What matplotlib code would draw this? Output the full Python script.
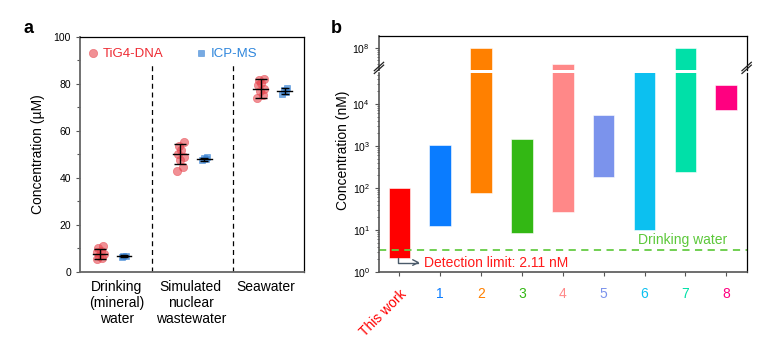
import numpy as np
import matplotlib
matplotlib.use('Agg')
import matplotlib.pyplot as plt
from matplotlib.ticker import NullFormatter

plt.rcParams['font.family'] = ['Liberation Sans', 'DejaVu Sans']

# ---- panel a data (uM) ----
sample_names = ['Drinking\n(mineral)\nwater', 'Simulated\nnuclear\nwastewater', 'Seawater']
tig4_points = [[5.5, 6.0, 7.0, 7.5, 8.5, 9.0, 10.0, 11.0],
               [43.0, 44.5, 47.5, 49.0, 50.0, 52.0, 53.5, 55.5],
               [74.0, 75.5, 77.0, 78.0, 79.5, 80.5, 81.5, 82.0]]
tig4_mean = [7.7, 50.3, 78.0]
tig4_sd = [2.2, 4.3, 4.0]
icp_points = [[6.5, 6.8, 7.0],
              [47.5, 48.0, 48.5, 48.8],
              [75.8, 76.5, 77.5, 78.3]]
icp_mean = [6.8, 48.0, 77.0]
icp_sd = [0.3, 0.6, 1.2]

# ---- panel b data (nM) ----
methods = ['This work', '1', '2', '3', '4', '5', '6', '7', '8']
range_low = [2.11, 12.5, 75, 8.6, 27, 180, 9.8, 240, 7200]
range_high = [100, 1050, 1e8, 1500, 4e7, 5400, 6e4, 1e8, 29000]
method_colors = ['#ff0000', '#0a7cff', '#ff8000', '#33b814', '#ff8888',
                 '#7b93ec', '#0cc0f0', '#00e0a8', '#ff0080']
drinking_limit = 3.4
detection_limit = 2.11

red = '#e8474f'
blue = '#3d86d6'

fig = plt.figure(figsize=(7.78, 3.5), dpi=100)

# ================= panel a =================
ax = fig.add_axes([0.1028, 0.2229, 0.2879, 0.6714])
off = 0.15
for i in range(3):
    pts = np.array(tig4_points[i])
    jit = np.tile([-0.04, 0.03, -0.01, 0.045, -0.035, 0.01, -0.02, 0.04], 2)[:len(pts)]
    ax.plot(i - off + jit, pts, 'o', color=red, ms=6, alpha=0.6, mec=red, mew=0.5,
            label='TiG4-DNA' if i == 0 else None, zorder=2)
    ax.errorbar(i - off, tig4_mean[i], yerr=tig4_sd[i], fmt='none', ecolor='black',
                elinewidth=1, capsize=4, capthick=1, zorder=3)
    ax.plot([i - off - 0.09, i - off + 0.09], [tig4_mean[i]] * 2, color='black', lw=1, zorder=3)

    pts = np.array(icp_points[i])
    jit = np.array([-0.03, 0.02, -0.01, 0.03])[:len(pts)]
    ax.plot(i + off + jit, pts, 's', color=blue, ms=5, alpha=0.7, mec=blue, mew=0.5,
            label='ICP-MS' if i == 0 else None, zorder=2)
    ax.errorbar(i + off, icp_mean[i], yerr=icp_sd[i], fmt='none', ecolor='black',
                elinewidth=1, capsize=3, capthick=1, zorder=3)
    ax.plot([i + off - 0.09, i + off + 0.09], [icp_mean[i]] * 2, color='black', lw=1, zorder=3)

for xs in [0.5, 1.5]:
    ax.plot([xs, xs], [0, 89], color='black', lw=0.9, ls=(0, (4, 3)))

ax.set_xlim(-0.4, 2.39)
ax.set_ylim(0, 100)
ax.set_yticks([0, 20, 40, 60, 80, 100])
ax.set_yticks([10, 30, 50, 70, 90], minor=True)
ax.set_xticks([0.06, 0.98, 1.92])
ax.set_xticklabels(sample_names, fontsize=10, linespacing=1.15)
ax.tick_params(axis='x', length=0, pad=6)
ax.tick_params(axis='y', labelsize=7.5, length=3, width=0.8, color='#555555')
ax.tick_params(axis='y', which='minor', length=2, width=0.8, color='#555555')
ax.set_ylabel('Concentration (µM)', fontsize=10, labelpad=6)
for s in ['left', 'bottom']:
    ax.spines[s].set_color('#666666')
    ax.spines[s].set_linewidth(1.3)
for s in ['top', 'right']:
    ax.spines[s].set_linewidth(0.9)
leg = ax.legend(loc='upper left', bbox_to_anchor=(0.0, 0.975), ncol=2, frameon=False,
                fontsize=9.5, handletextpad=0.1, columnspacing=2.3, borderaxespad=0.0,
                labelcolor=['#ee2b33', '#2f86dc'], handlelength=1.2)

fig.text(0.030, 0.905, 'a', fontsize=13, fontweight='bold')
fig.text(0.425, 0.905, 'b', fontsize=13, fontweight='bold')

# ================= panel b =================
axl = fig.add_axes([0.4871, 0.2229, 0.4726, 0.5694])
axu = fig.add_axes([0.4871, 0.80, 0.4726, 0.0971])
x = np.arange(len(methods))
for a in (axl, axu):
    a.bar(x, np.array(range_high) - np.array(range_low), bottom=range_low, width=0.53,
          color=method_colors, edgecolor='white', linewidth=0.4)
    a.set_yscale('log')
    a.set_xlim(-0.5, 8.5)
    for s in ['left', 'bottom']:
        a.spines[s].set_color('#555555')
        a.spines[s].set_linewidth(1.2)
    a.spines['right'].set_linewidth(0.9)
    a.spines['top'].set_linewidth(0.9)
    a.tick_params(axis='y', labelsize=7.5, length=3, width=0.8, color='#555555')
    a.tick_params(axis='y', which='minor', length=1.6, width=0.6, color='#555555')
    a.yaxis.set_minor_formatter(NullFormatter())

axl.set_ylim(1, 10 ** 4.745)
axl.set_yticks([1, 10, 100, 1000, 10000])
axl.spines['top'].set_visible(False)
axu.set_ylim(10 ** 7.47, 10 ** 8.28)
axu.set_yticks([1e8])
axu.spines['bottom'].set_visible(False)
axu.set_xticks([])

axl.set_xticks(x)
axl.set_xticklabels(methods, fontsize=10)
axl.tick_params(axis='x', length=3, width=0.8, color='#555555', pad=8)
for lbl, c in zip(axl.get_xticklabels(), method_colors):
    lbl.set_color(c)
lab0 = axl.get_xticklabels()[0]
lab0.set_rotation(45)
lab0.set_ha('right')
lab0.set_rotation_mode('anchor')
lab0.set_va('top')

axl.axhline(drinking_limit, color='#66cc44', lw=1.3, ls=(0, (4, 3)))
axl.text(8.02, 4.0, 'Drinking water', color='#5cc83a', fontsize=10, ha='right', va='bottom')
axl.annotate('', xy=(0.5, 1.68), xytext=(-0.03, detection_limit),
             arrowprops=dict(arrowstyle='->', color='#4a5a6a', lw=1,
                             connectionstyle='angle,angleA=90,angleB=0,rad=0',
                             shrinkA=0, shrinkB=0))
axl.text(0.61, 1.63, 'Detection limit: 2.11 nM', color='#ff1a1a', fontsize=10,
         ha='left', va='center')

# axis break marks
for xpos in (0.0, 1.0):
    for yy in (0.802, 0.810):
        fig.add_artist(plt.Line2D([0.4871 + xpos * 0.4726 - 0.006, 0.4871 + xpos * 0.4726 + 0.006],
                                  [yy - 0.012, yy + 0.012], color='#222222', lw=0.9,
                                  transform=fig.transFigure))

fig.text(0.441, 0.57, 'Concentration (nM)', fontsize=10, rotation=90, ha='center', va='center')

fig.savefig('out.png', dpi=100)
